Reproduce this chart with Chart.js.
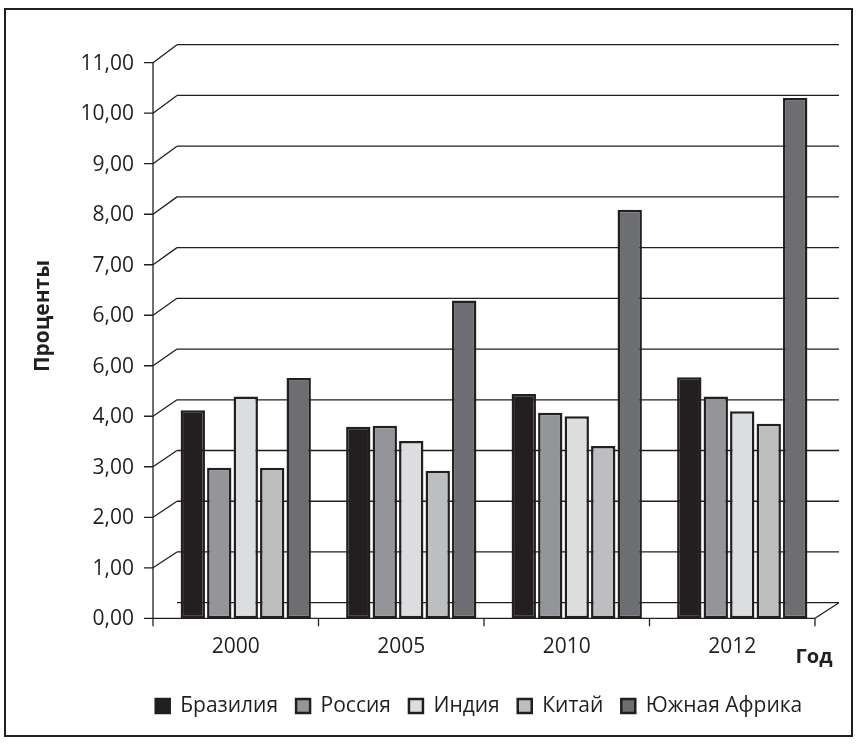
<!DOCTYPE html>
<html><head><meta charset="utf-8">
<script src="https://cdn.jsdelivr.net/npm/chart.js@4.4.1/dist/chart.umd.min.js"></script>
<style>
html,body{margin:0;padding:0;background:#fff;}
#wrap{position:relative;width:857px;height:744px;overflow:hidden;}
#frame{position:absolute;left:4px;top:8px;width:849px;height:729px;border:2px solid #231f20;box-sizing:border-box;pointer-events:none;}
canvas{position:absolute;left:0;top:0;}
</style></head><body>
<div id="wrap"><canvas id="c" width="857" height="744"></canvas><div id="frame"></div></div>
<script>
const categories = ['2000', '2005', '2010', '2012'];
const seriesNames = ['Бразилия', 'Россия', 'Индия', 'Китай', 'Южная Африка'];
const brazil = [4.12, 3.79, 4.44, 4.77];
const russia = [2.98, 3.81, 4.07, 4.39];
const india = [4.39, 3.51, 4.00, 4.10];
const china = [2.98, 2.92, 3.41, 3.85];
const southAfrica = [4.76, 6.29, 8.09, 10.30];
const yTickLabels = ['0,00', '1,00', '2,00', '3,00', '4,00', '6,00', '6,00', '7,00', '8,00', '9,00', '10,00', '11,00'];
const yAxisTitle = 'Проценты';
const xAxisTitle = 'Год';

const seriesValues = [brazil, russia, india, china, southAfrica];
const seriesColors = ['#231f20', '#939598', '#dcddde', '#bcbec0', '#6d6e71'];
const INK = '#231f20';
const FONT = '"Open Sans", "Noto Sans", sans-serif';
const FX = 10, DX = 24, DY0 = 15.6, DY1 = 18;

const wallPlugin = {
  id: 'wall',
  beforeDatasetsDraw(chart) {
    const {ctx, chartArea: ca, scales: {x, y}} = chart;
    const fl = ca.left - FX, fr = ca.right - FX;
    const y0 = y.getPixelForValue(0);
    const n = yTickLabels.length;
    ctx.save();
    ctx.strokeStyle = INK;
    ctx.lineWidth = 1.3;
    for (let i = 0; i < n; i++) {
      const fy = y.getPixelForValue(i);
      const by = fy - (DY0 + (DY1 - DY0) * i / (n - 1));
      ctx.beginPath();
      ctx.moveTo(fl + DX, by); ctx.lineTo(fr + DX, by);
      if (i > 0) { ctx.moveTo(fl, fy); ctx.lineTo(fl + DX, by); }
      else { ctx.moveTo(fr, fy); ctx.lineTo(fr + DX, by); }
      ctx.moveTo(fl - 9, fy); ctx.lineTo(fl, fy);
      ctx.stroke();
    }
    ctx.beginPath();
    ctx.moveTo(fl, y.getPixelForValue(n - 1)); ctx.lineTo(fl, y0 + 8);
    ctx.moveTo(fl, y0); ctx.lineTo(fr, y0);
    for (let i = 1; i <= categories.length; i++) {
      const tx = fl + (fr - fl) * i / categories.length;
      ctx.moveTo(tx, y0); ctx.lineTo(tx, y0 + 8);
    }
    ctx.stroke();
    ctx.restore();
  },
  afterDraw(chart) {
    const {ctx, chartArea: ca, scales: {x, y}} = chart;
    const fl = ca.left - FX, fr = ca.right - FX;
    const y0 = y.getPixelForValue(0);
    ctx.save();
    ctx.fillStyle = INK;
    ctx.textBaseline = 'middle';
    ctx.font = '21px ' + FONT;
    ctx.textAlign = 'right';
    yTickLabels.forEach((t, i) => {
      ctx.fillText(t, fl - 19, y.getPixelForValue(i) + 1);
    });
    ctx.textAlign = 'center';
    categories.forEach((c, i) => {
      ctx.fillText(c, x.getPixelForValue(i) - FX, y0 + 29);
    });
    ctx.font = 'bold 20px ' + FONT;
    ctx.fillText(xAxisTitle, fr - 1, y0 + 39);
    ctx.font = 'bold 21px ' + FONT;
    ctx.translate(43, 316);
    ctx.rotate(-Math.PI / 2);
    ctx.fillText(yAxisTitle, 0, 0);
    ctx.restore();
  }
};

new Chart(document.getElementById('c'), {
  type: 'bar',
  data: {
    labels: categories,
    datasets: seriesNames.map((name, i) => ({
      label: name,
      data: seriesValues[i],
      backgroundColor: seriesColors[i],
      borderColor: INK,
      borderWidth: 2.5,
      borderSkipped: false,
      categoryPercentage: 0.8,
      barPercentage: 0.92
    }))
  },
  options: {
    responsive: false,
    animation: false,
    devicePixelRatio: 1,
    layout: {padding: {left: 133, right: 32, top: 62.7, bottom: 17.5}},
    plugins: {
      tooltip: {enabled: false},
      legend: {
        position: 'bottom',
        labels: {
          color: INK,
          font: {family: FONT, size: 21},
          boxWidth: 14,
          boxHeight: 14,
          padding: 18
        }
      }
    },
    scales: {
      x: {
        grid: {display: false, drawTicks: false},
        border: {display: false},
        ticks: {display: false},
        afterFit(s) { s.height = 59.2; }
      },
      y: {
        min: 0, max: 11,
        grid: {display: false, drawTicks: false},
        border: {display: false},
        ticks: {display: false, stepSize: 1},
        afterFit(s) { s.width = 30; }
      }
    }
  },
  plugins: [wallPlugin]
});
</script>
</body></html>
